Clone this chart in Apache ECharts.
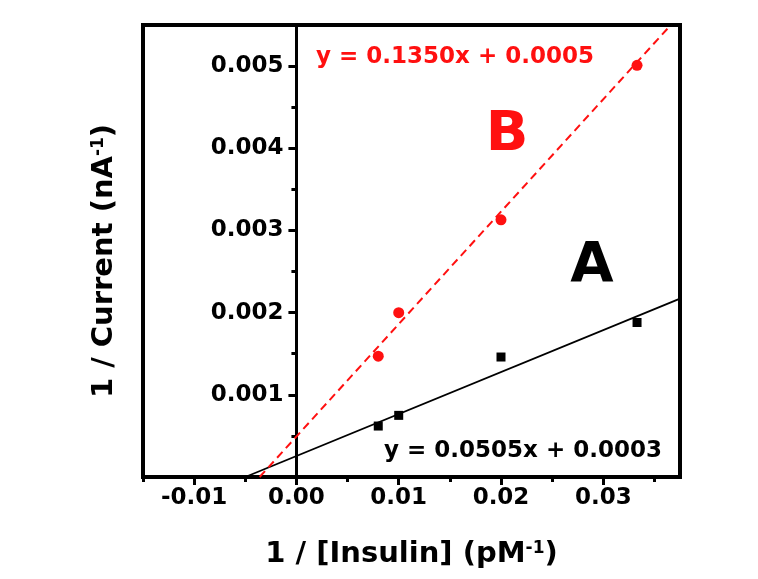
<!DOCTYPE html>
<html><head><meta charset="utf-8">
<script src="https://cdn.jsdelivr.net/npm/echarts@6/dist/echarts.min.js"></script>
<style>html,body{margin:0;padding:0;background:#fff}#c{width:758px;height:579px}</style>
</head><body><div id="c"></div>
<script>
// ---- data ----
const insulinInv = [0.008, 0.01, 0.02, 0.0333];
const currentInvA = [0.00062, 0.00075, 0.00146, 0.00188];
const currentInvB = [0.00147, 0.00200, 0.00313, 0.00501];
const fitAX = [-0.0050, 0.0375];
const fitAY = [0.0, 0.00217];
const fitBX = [-0.0036, 0.0366];
const fitBY = [0.0, 0.0055];
const xTickValues = [-0.01, 0, 0.01, 0.02, 0.03];
const xTickLabels = ['-0.01', '0.00', '0.01', '0.02', '0.03'];
const xMinorTicks = [-0.015, -0.005, 0.005, 0.015, 0.025, 0.035];
const yTickValues = [0.001, 0.002, 0.003, 0.004, 0.005];
const yTickLabels = ['0.001', '0.002', '0.003', '0.004', '0.005'];
const yMinorTicks = [0.0005, 0.0015, 0.0025, 0.0035, 0.0045];
const eqA = 'y = 0.0505x + 0.0003';
const eqB = 'y = 0.1350x + 0.0005';
const labelA = 'A';
const labelB = 'B';
const xTitle = '1 / [Insulin] (pM{sup|-1})';
const yTitle = '1 / Current (nA{sup|-1})';

// ---- styling / layout ----
const FONT = 'DejaVu Sans';
const RED = '#ff1010';
const W = 758, H = 579;
const G = { left: 143, right: 78, top: 25, bottom: 102 };
const XMIN = -0.015, XMAX = 0.0375, YMIN = 0, YMAX = 0.0055;
// shift the labelled y axis from the grid's left edge onto x = 0
const yAxisShift = -((0 - XMIN) / (XMAX - XMIN)) * (W - G.left - G.right);

const zip = (xs, ys) => xs.map((x, i) => [x, ys[i]]);
const lookup = (vals, labels) => v => {
  const i = vals.findIndex(t => Math.abs(t - v) < 1e-9);
  return i >= 0 ? labels[i] : '';
};
const titleStyle = (pad) => ({
  fontSize: 29, fontWeight: 'bold', fontFamily: FONT, color: '#000', padding: pad,
  rich: { sup: { fontSize: 17, fontWeight: 'bold', fontFamily: FONT, color: '#000', verticalAlign: 'top', lineHeight: 17 } }
});

const chart = echarts.init(document.getElementById('c'), null, { renderer: 'canvas' });
chart.setOption({
  animation: false,
  backgroundColor: '#fff',
  grid: Object.assign({ show: true, borderColor: '#000', borderWidth: 4, backgroundColor: 'transparent', containLabel: false, outerBoundsMode: 'none' }, G),
  xAxis: [{
    type: 'value', position: 'bottom', min: XMIN, max: XMAX,
    axisLine: { show: true, onZero: false, lineStyle: { color: '#000', width: 4 } },
    axisTick: { show: true, inside: false, length: 8, customValues: xTickValues, lineStyle: { color: '#000', width: 3 } },
    axisLabel: { show: true, customValues: xTickValues, formatter: lookup(xTickValues, xTickLabels), margin: 10, fontSize: 23, fontWeight: 'bold', fontFamily: FONT, color: '#000' },
    splitLine: { show: false },
    name: xTitle, nameLocation: 'middle', nameGap: 63, nameTextStyle: titleStyle([0, 0, 0, 0])
  }, {
    type: 'value', position: 'bottom', min: XMIN, max: XMAX,
    axisLine: { show: false, onZero: false },
    axisTick: { show: true, inside: false, length: 5, customValues: xMinorTicks, lineStyle: { color: '#000', width: 3 } },
    axisLabel: { show: false },
    splitLine: { show: false }
  }],
  yAxis: [{
    type: 'value', position: 'left', min: YMIN, max: YMAX, offset: yAxisShift,
    axisLine: { show: true, onZero: false, lineStyle: { color: '#000', width: 3 } },
    axisTick: { show: true, inside: false, length: 8, customValues: yTickValues, lineStyle: { color: '#000', width: 3 } },
    axisLabel: { show: true, customValues: yTickValues, formatter: lookup(yTickValues, yTickLabels), margin: 13, fontSize: 23, fontWeight: 'bold', fontFamily: FONT, color: '#000' },
    splitLine: { show: false }
  }, {
    type: 'value', position: 'left', min: YMIN, max: YMAX, offset: yAxisShift,
    axisLine: { show: false, onZero: false },
    axisTick: { show: true, inside: false, length: 5, customValues: yMinorTicks, lineStyle: { color: '#000', width: 3 } },
    axisLabel: { show: false },
    splitLine: { show: false }
  }, {
    type: 'value', position: 'left', min: YMIN, max: YMAX,
    axisLine: { show: false, onZero: false },
    axisTick: { show: false },
    axisLabel: { show: false },
    splitLine: { show: false },
    name: yTitle, nameLocation: 'middle', nameGap: 24, nameTextStyle: titleStyle([0, 20, 0, 0])
  }],
  series: [{
    type: 'line', name: 'fitA', data: zip(fitAX, fitAY), symbol: 'none', clip: true,
    lineStyle: { color: '#000', width: 1.8 }, z: 3
  }, {
    type: 'line', name: 'fitB', data: zip(fitBX, fitBY), symbol: 'none', clip: true,
    lineStyle: { color: RED, width: 2, type: [8, 5] }, z: 3
  }, {
    type: 'scatter', name: 'A', data: zip(insulinInv, currentInvA), symbol: 'rect', symbolSize: 9,
    itemStyle: { color: '#000', opacity: 1 }, z: 4
  }, {
    type: 'scatter', name: 'B', data: zip(insulinInv, currentInvB), symbol: 'circle', symbolSize: 11,
    itemStyle: { color: RED, opacity: 1 }, z: 4
  }],
  graphic: [
    { type: 'text', x: 316, y: 57, z: 10, style: { text: eqB, fill: RED, font: 'bold 23px "DejaVu Sans"', align: 'left', verticalAlign: 'middle', textAlign: 'left', textVerticalAlign: 'middle' } },
    { type: 'text', x: 384, y: 451, z: 10, style: { text: eqA, fill: '#000', font: 'bold 23px "DejaVu Sans"', align: 'left', verticalAlign: 'middle', textAlign: 'left', textVerticalAlign: 'middle' } },
    { type: 'text', x: 507, y: 135, z: 10, style: { text: labelB, fill: RED, font: 'bold 56px "DejaVu Sans"', align: 'center', verticalAlign: 'middle', textAlign: 'center', textVerticalAlign: 'middle' } },
    { type: 'text', x: 592, y: 266, z: 10, style: { text: labelA, fill: '#000', font: 'bold 56px "DejaVu Sans"', align: 'center', verticalAlign: 'middle', textAlign: 'center', textVerticalAlign: 'middle' } }
  ]
});
</script>
</body></html>
